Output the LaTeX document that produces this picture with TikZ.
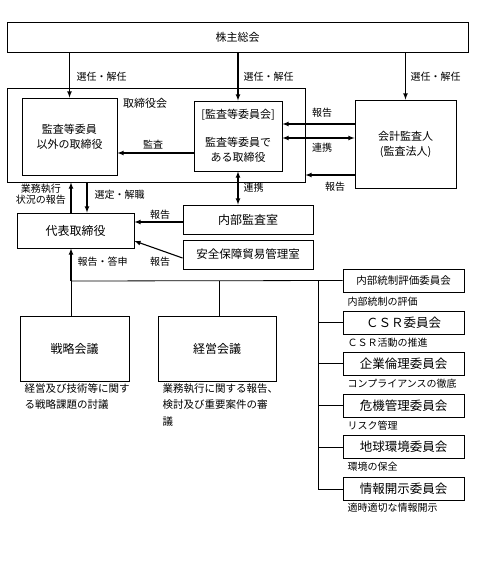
\documentclass[tikz,border=0pt]{standalone}
\usepackage{fontspec}
\setmainfont{Noto Sans CJK JP}
\usetikzlibrary{arrows}
\usetikzlibrary{positioning}

\begin{document}
\begin{tikzpicture}[->,>=latex,line width=1.1pt,x=1pt,y=-1pt]
    \tikzstyle{box}=[draw,rectangle,inner sep=0pt,line width=0.9pt,align=center,font=\fontsize{11}{15}\selectfont]
    \tikzstyle{cbox}=[box,minimum width=121pt,minimum height=23pt,font=\fontsize{12.5}{14}\selectfont]
    \tikzstyle{lbl}=[inner sep=0pt,font=\fontsize{10}{11.5}\selectfont]
    \tikzstyle{desc}=[lbl,anchor=west]
    \tikzstyle{tree}=[-,line width=0.8pt]
    \useasboundingbox (0,0) rectangle (479,565);

    % upper part
    \node[box, minimum width=461pt, minimum height=30pt] (share) at (237.5,37) {株主総会};
    \node[box, minimum width=298pt, minimum height=94pt] (board) at (156,135) {};
    \node[box, draw=none] (boardname) at (145,103) {取締役会};
    \node[box, minimum width=95pt, minimum height=77pt] (other) at (69.5,136.5) {監査等委員\\以外の取締役};
    \node[box, minimum width=88pt, minimum height=70pt] (audcom) at (238,136) {[監査等委員会]\\[13pt]監査等委員で\\ある取締役};
    \node[box, minimum width=101pt, minimum height=88pt] (auditor) at (405.5,144) {会計監査人\\(監査法人)};

    \draw (share.south -| other.north) -- (other.north);
    \draw (share.south -| audcom.north) -- (audcom.north);
    \draw (share.south -| auditor.north) -- (auditor.north);
    \node[desc] (sel1) at (76,77) {選任・解任};
    \node[desc] (sel2) at (243,77) {選任・解任};
    \node[desc] (sel3) at (410,77) {選任・解任};

    \draw (audcom.west |- 0,153) -- (other.east |- 0,153);
    \node[lbl] (audit) at (153,145) {監査};
    \draw (auditor.west |- 0,124) -- (audcom.east |- 0,124);
    \draw[<->] (audcom.east |- 0,138) -- (auditor.west |- 0,138);
    \draw (auditor.west |- 0,175) -- (board.east |- 0,175);
    \node[lbl] (rep1) at (322,113) {報告};
    \node[lbl] (coop1) at (322,148) {連携};
    \node[lbl] (rep2) at (335,187) {報告};

    % middle part
    \node[box, minimum width=117pt, minimum height=35pt, font=\fontsize{12}{14}\selectfont] (ceo) at (75.5,230.5) {代表取締役};
    \node[box, minimum width=130pt, minimum height=29pt, font=\fontsize{12}{14}\selectfont] (internal) at (248,219.5) {内部監査室};
    \node[box, minimum width=130pt, minimum height=29pt, font=\fontsize{11.5}{14}\selectfont] (trade) at (248,254.5) {安全保障貿易管理室};

    \draw (ceo.north -| 71,0) -- (board.south -| 71,0);
    \draw (board.south -| 87,0) -- (ceo.north -| 87,0);
    \node[lbl, align=center] (exec) at (41,194) {業務執行\\状況の報告};
    \node[desc] (appoint) at (94,195) {選定・解職};
    \draw[<->] (audcom.south) -- (internal.north -| audcom.south);
    \node[desc] (coop2) at (243,188) {連携};
    \draw (internal.west |- 0,222) -- (ceo.east |- 0,222);
    \draw (trade.west |- 0,258) -- (ceo.east |- 0,241);
    \node[lbl] (rep3) at (160,215) {報告};
    \node[lbl] (rep4) at (160,262) {報告};
    \node[desc] (answer) at (77,262) {報告・答申};

    % lower part
    \coordinate (hub) at (71,281);
    \coordinate (spine) at (318,281);
    \node[box, minimum width=109pt, minimum height=65pt, font=\fontsize{12}{14}\selectfont] (strategy) at (74.5,348.5) {戦略会議};
    \node[box, minimum width=118pt, minimum height=65pt, font=\fontsize{12}{14}\selectfont] (mgmt) at (217,348.5) {経営会議};
    \node[lbl, anchor=north west, align=left, font=\fontsize{10.5}{16.5}\selectfont] (stratdesc) at (24,383) {経営及び技術等に関す\\る戦略課題の討議};
    \node[lbl, anchor=north west, align=left, font=\fontsize{10.5}{16.5}\selectfont] (mgmtdesc) at (162,383) {業務執行に関する報告、\\検討及び重要案件の審\\議};

    \node[cbox, font=\fontsize{10.5}{12}\selectfont] (c1) at (403.5,280.5) {内部統制評価委員会};
    \node[cbox] (c2) at (403.5,322.5) {ＣＳＲ委員会};
    \node[cbox] (c3) at (403.5,363.5) {企業倫理委員会};
    \node[cbox] (c4) at (403.5,405.5) {危機管理委員会};
    \node[cbox] (c5) at (403.5,447) {地球環境委員会};
    \node[cbox] (c6) at (403.5,489) {情報開示委員会};
    \node[desc] (d1) at (347,302) {内部統制の評価};
    \node[desc] (d2) at (347,343) {ＣＳＲ活動の推進};
    \node[desc] (d3) at (347,384) {コンプライアンスの徹底};
    \node[desc] (d4) at (347,426) {リスク管理};
    \node[desc] (d5) at (347,467) {環境の保全};
    \node[desc] (d6) at (347,508) {適時適切な情報開示};

    \draw[tree] (hub) -- (c1.west);
    \draw (hub) -- (ceo.south -| hub);
    \draw[tree] (hub) -- (strategy.north -| hub);
    \draw[tree] (hub -| 219,0) -- (mgmt.north -| 219,0);
    \draw[tree] (spine) -- (spine |- c6.west);
    \foreach \c in {c2,c3,c4,c5,c6}
        \draw[tree] (spine |- \c.west) -- (\c.west);
\end{tikzpicture}
\end{document}
